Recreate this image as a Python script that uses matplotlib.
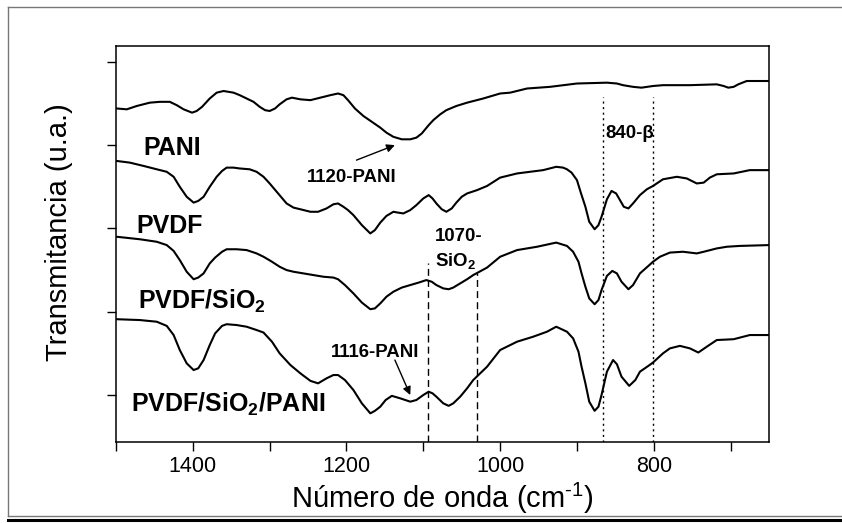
import matplotlib
matplotlib.use('Agg')
import matplotlib.pyplot as plt
from matplotlib.lines import Line2D
from matplotlib.ticker import MultipleLocator, FixedLocator

plt.rcParams['font.family'] = ['Liberation Sans', 'DejaVu Sans']
plt.rcParams['mathtext.fontset'] = 'custom'
plt.rcParams['mathtext.rm'] = 'Liberation Sans'
plt.rcParams['mathtext.bf'] = 'Liberation Sans:bold'
plt.rcParams['mathtext.it'] = 'Liberation Sans:italic'

# FTIR spectra, stacked with vertical offsets (arbitrary units)
pani_wn = [1499, 1486, 1473, 1456, 1443, 1430, 1421, 1412, 1401, 1395, 1388, 1378, 1369, 1360, 1347,
           1339, 1330, 1321, 1313, 1306, 1300, 1293, 1287, 1278, 1271, 1260, 1247, 1234, 1221, 1211,
           1204, 1198, 1189, 1178, 1167, 1156, 1148, 1139, 1128, 1117, 1109, 1102, 1093, 1087, 1078,
           1070, 1057, 1043, 1022, 1000, 987, 965, 935, 900, 861, 848, 840, 827, 816, 801,
           788, 753, 718, 709, 703, 696, 690, 679, 666, 650]
pani_t = [4.44, 4.43, 4.47, 4.51, 4.52, 4.52, 4.48, 4.43, 4.39, 4.41, 4.46, 4.56, 4.63, 4.65, 4.63,
          4.60, 4.56, 4.52, 4.46, 4.42, 4.41, 4.44, 4.49, 4.55, 4.57, 4.55, 4.54, 4.57, 4.60, 4.62,
          4.60, 4.54, 4.44, 4.35, 4.28, 4.21, 4.15, 4.10, 4.07, 4.07, 4.09, 4.14, 4.24, 4.30, 4.37,
          4.42, 4.47, 4.51, 4.56, 4.62, 4.63, 4.68, 4.70, 4.74, 4.75, 4.74, 4.72, 4.70, 4.69, 4.71,
          4.72, 4.72, 4.73, 4.71, 4.69, 4.70, 4.73, 4.77, 4.77, 4.77]

pvdf_wn = [1499, 1482, 1464, 1447, 1434, 1425, 1417, 1408, 1399, 1393, 1386, 1378, 1369, 1362, 1356,
           1347, 1339, 1326, 1317, 1308, 1300, 1289, 1278, 1269, 1260, 1247, 1237, 1226, 1217, 1211,
           1204, 1198, 1191, 1180, 1169, 1163, 1156, 1148, 1139, 1133, 1126, 1117, 1109, 1100, 1093,
           1088, 1083, 1076, 1070, 1063, 1057, 1050, 1043, 1030, 1017, 1000, 978, 961, 944, 927,
           918, 913, 907, 900, 895, 889, 884, 877, 872, 868, 861, 855, 849, 844, 839,
           833, 827, 818, 809, 801, 788, 770, 757, 744, 735, 727, 718, 696, 675, 650]
pvdf_t = [3.81, 3.79, 3.75, 3.71, 3.68, 3.62, 3.50, 3.38, 3.31, 3.33, 3.38, 3.50, 3.62, 3.69, 3.73,
          3.73, 3.72, 3.71, 3.68, 3.62, 3.54, 3.42, 3.30, 3.25, 3.23, 3.20, 3.20, 3.24, 3.29, 3.30,
          3.26, 3.22, 3.16, 3.04, 2.94, 2.98, 3.07, 3.15, 3.20, 3.19, 3.18, 3.22, 3.28, 3.36, 3.40,
          3.36, 3.30, 3.23, 3.20, 3.24, 3.31, 3.38, 3.42, 3.46, 3.51, 3.61, 3.66, 3.68, 3.70, 3.74,
          3.73, 3.71, 3.67, 3.58, 3.43, 3.26, 3.08, 2.99, 3.04, 3.14, 3.35, 3.45, 3.42, 3.34, 3.26,
          3.24, 3.30, 3.40, 3.47, 3.51, 3.59, 3.62, 3.60, 3.54, 3.55, 3.61, 3.65, 3.66, 3.70, 3.70]

sio2_wn = [1499, 1469, 1447, 1434, 1425, 1417, 1408, 1399, 1393, 1386, 1378, 1371, 1362, 1356, 1343,
           1330, 1317, 1308, 1297, 1287, 1278, 1269, 1256, 1243, 1230, 1217, 1211, 1202, 1191, 1180,
           1169, 1163, 1156, 1148, 1139, 1128, 1117, 1106, 1096, 1089, 1083, 1074, 1067, 1061, 1052,
           1043, 1035, 1017, 1000, 978, 952, 927, 913, 905, 898, 894, 889, 884, 877, 872,
           868, 861, 854, 848, 842, 833, 827, 818, 807, 801, 792, 779, 762, 744, 735,
           718, 705, 688, 650]
sio2_t = [2.90, 2.87, 2.84, 2.80, 2.73, 2.62, 2.48, 2.39, 2.41, 2.46, 2.58, 2.65, 2.72, 2.75, 2.75,
          2.74, 2.70, 2.66, 2.60, 2.54, 2.50, 2.48, 2.46, 2.44, 2.42, 2.41, 2.39, 2.32, 2.22, 2.11,
          2.03, 2.04, 2.10, 2.18, 2.24, 2.29, 2.32, 2.35, 2.38, 2.36, 2.32, 2.28, 2.27, 2.29, 2.34,
          2.39, 2.44, 2.53, 2.66, 2.74, 2.78, 2.83, 2.79, 2.72, 2.60, 2.46, 2.30, 2.16, 2.09, 2.14,
          2.26, 2.43, 2.49, 2.46, 2.36, 2.27, 2.32, 2.46, 2.55, 2.60, 2.66, 2.71, 2.72, 2.70, 2.72,
          2.76, 2.78, 2.79, 2.80]

comp_wn = [1499, 1469, 1447, 1434, 1425, 1417, 1408, 1399, 1393, 1386, 1378, 1371, 1362, 1356, 1343,
           1330, 1317, 1308, 1297, 1287, 1273, 1260, 1247, 1237, 1226, 1217, 1211, 1202, 1191, 1180,
           1169, 1163, 1156, 1149, 1141, 1130, 1117, 1109, 1100, 1093, 1088, 1083, 1074, 1067, 1061,
           1052, 1043, 1035, 1017, 1000, 978, 957, 939, 927, 913, 905, 898, 894, 889, 884,
           877, 872, 868, 861, 853, 848, 842, 832, 824, 818, 807, 801, 788, 779, 766,
           753, 742, 731, 718, 696, 675, 650]
comp_t = [1.91, 1.90, 1.88, 1.83, 1.72, 1.54, 1.38, 1.30, 1.32, 1.42, 1.60, 1.74, 1.83, 1.85, 1.84,
          1.82, 1.78, 1.75, 1.64, 1.50, 1.36, 1.26, 1.17, 1.14, 1.20, 1.24, 1.24, 1.18, 1.06, 0.90,
          0.78, 0.81, 0.86, 0.94, 0.99, 0.96, 0.92, 0.94, 1.00, 1.04, 1.02, 0.98, 0.90, 0.87, 0.90,
          0.98, 1.08, 1.18, 1.34, 1.54, 1.64, 1.70, 1.76, 1.82, 1.76, 1.68, 1.52, 1.34, 1.14, 0.92,
          0.81, 0.86, 1.00, 1.28, 1.42, 1.37, 1.22, 1.11, 1.18, 1.28, 1.35, 1.39, 1.50, 1.56, 1.59,
          1.56, 1.51, 1.58, 1.66, 1.67, 1.72, 1.72]

# reference band positions (cm-1) and where each guide line starts
dashed_wn = [1094, 1030]
dashed_top = [2.585, 2.465]
dotted_wn = [866, 801]
dotted_top = 4.58

fig = plt.figure(figsize=(8.42, 5.23), dpi=100)
ax = fig.add_axes([0.1378, 0.1549, 0.7755, 0.7571])

for wn, t in [(pani_wn, pani_t), (pvdf_wn, pvdf_t), (sio2_wn, sio2_t), (comp_wn, comp_t)]:
    ax.plot(wn, t, color='black', lw=1.5, solid_joinstyle='round', solid_capstyle='round')

ymin, ymax = 0.436, 5.19
for wn, top in zip(dashed_wn, dashed_top):
    ax.plot([wn, wn], [ymin, top], color='black', lw=1.0, ls=(0, (5, 3)))
for wn in dotted_wn:
    ax.plot([wn, wn], [ymin, dotted_top], color='black', lw=1.0, ls=(0, (1.5, 2.5)))

ax.set_xlim(1500, 650)
ax.set_ylim(ymin, ymax)
ax.xaxis.set_major_locator(FixedLocator([1400, 1200, 1000, 800]))
ax.xaxis.set_minor_locator(FixedLocator([1500, 1300, 1100, 900, 700]))
ax.yaxis.set_major_locator(MultipleLocator(1))
ax.set_yticklabels([])
ax.tick_params(which='both', direction='out', length=6.5, width=1.0)
ax.tick_params(axis='x', pad=3.5, labelsize=15.5)
for lab in ax.get_xticklabels():
    lab.set_family(['Liberation Sans Narrow', 'Liberation Sans'])
for sp in ax.spines.values():
    sp.set_linewidth(1.1)

ax.set_xlabel('Número de onda (cm$^{\\text{-}1}$)', fontsize=21)
ax.xaxis.set_label_coords(0.5, -0.098)
ax.set_ylabel('Transmitancia (u.a.)', fontsize=21)
ax.yaxis.set_label_coords(-0.066, 0.53)

# sample names
name_kw = dict(fontsize=18, fontweight='bold', ha='left', va='baseline')
ax.text(1464, 3.88, 'PANI', **name_kw)
ax.text(1473, 2.945, 'PVDF', **name_kw)
ax.text(1472, 2.04, 'PVDF/SiO$_\\mathbf{2}$', **name_kw)
ax.text(1481, 0.80, 'PVDF/SiO$_\\mathbf{2}$/PANI', **name_kw)

# band assignments
band_kw = dict(fontsize=13.4, fontweight='bold', ha='left', va='baseline')
ax.text(1252, 3.557, '1120-PANI', **band_kw)
ax.text(863, 4.085, '840-β', **band_kw)
ax.text(1085, 2.85, '1070-', **band_kw)
ax.text(1085, 2.55, 'SiO$_\\mathbf{2}$', **band_kw)
ax.text(1220, 1.46, '1116-PANI', **band_kw)

arrow = dict(arrowstyle='-|>', color='black', lw=1.0, mutation_scale=12, shrinkA=0, shrinkB=0)
ax.annotate('', xy=(1137, 4.00), xytext=(1187, 3.82), arrowprops=arrow)
ax.annotate('', xy=(1117, 1.00), xytext=(1137, 1.42), arrowprops=arrow)

# page frame
fig.add_artist(Line2D([8 / 842, 1], [1 - 7 / 523, 1 - 7 / 523], color='#777777', lw=1.0))
fig.add_artist(Line2D([8 / 842, 8 / 842], [1 - 7 / 523, 1 - 516 / 523], color='#777777', lw=1.0))
fig.add_artist(Line2D([8 / 842, 1], [1 - 516 / 523, 1 - 516 / 523], color='#777777', lw=1.0))
fig.add_artist(Line2D([8 / 842, 1], [1 - 519.5 / 523, 1 - 519.5 / 523], color='black', lw=2.2))

fig.savefig('out.png', dpi=100)
